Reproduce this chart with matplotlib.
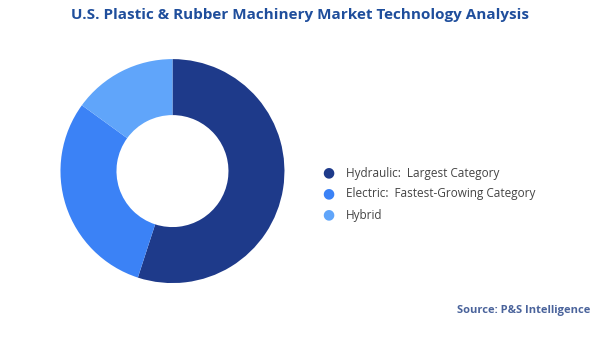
import matplotlib.pyplot as plt

# datos del grafico
categorias = ['Hydraulic', 'Electric', 'Hybrid']
etiquetas = ['Hydraulic:  Largest Category', 'Electric:  Fastest-Growing Category', 'Hybrid']
valores = [55, 30, 15]
colores = ['#1e3a8a', '#3b82f6', '#60a5fa']

plt.rcParams['font.family'] = ['Open Sans', 'DejaVu Sans']

fig = plt.figure(figsize=(6, 3.37), dpi=100)
fig.patch.set_facecolor('white')

ax = fig.add_axes([0.1008, 0.160, 0.3733, 0.6647])
ax.pie(valores, colors=colores, startangle=90, counterclock=False, radius=1,
       wedgeprops=dict(width=0.5, edgecolor='none'))
ax.set_xlim(-1, 1)
ax.set_ylim(-1, 1)
ax.set_aspect('equal')
ax.axis('off')

fig.text(0.5, 1 - 15 / 337, 'U.S. Plastic & Rubber Machinery Market Technology Analysis',
         ha='center', va='center', fontsize=11, fontweight='bold', color='#1f4e9c')

# leyenda a mano
ys = [173, 194, 215]
for y, c, t in zip(ys, colores, etiquetas):
    fig.text(328 / 600, 1 - y / 337, '\u25cf', ha='center', va='center', fontsize=10, color=c)
    fig.text(346 / 600, 1 - y / 337, t, ha='left', va='center', fontsize=8.5, color='#444444')

fig.text(590 / 600, 1 - 311 / 337, 'Source: P&S Intelligence', ha='right', va='center',
         fontsize=8, fontweight='bold', color='#4a639b')

fig.savefig('out.png', dpi=100)
